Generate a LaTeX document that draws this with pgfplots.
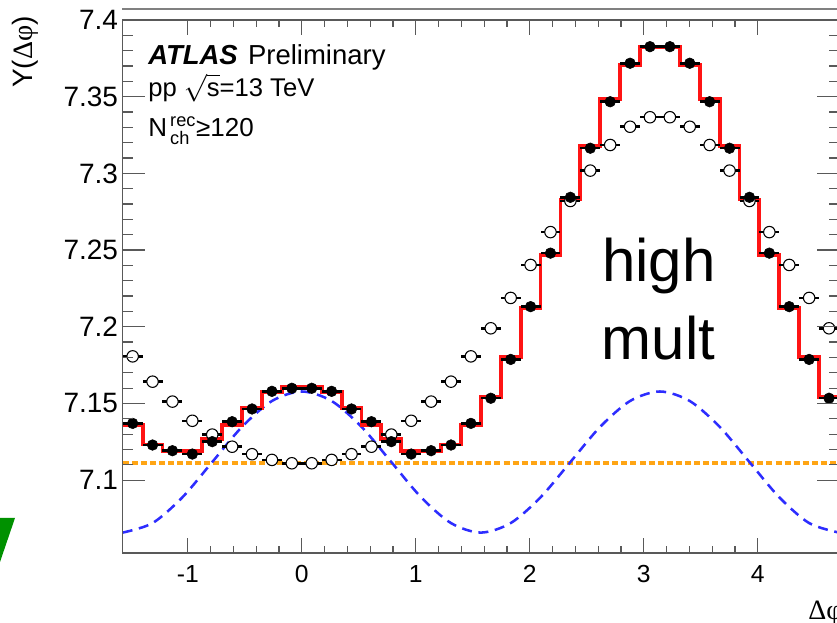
\documentclass[border=0pt]{standalone}
\usepackage{amsmath}
\usepackage{fontspec}
\setmainfont{Liberation Sans}
\newfontfamily\symbfont{Liberation Serif}
\usepackage{pgfplots}
\pgfplotsset{compat=1.18}
\usepackage{pgfplotstable}

\definecolor{fitred}{RGB}{255,20,20}
\definecolor{dashblue}{RGB}{45,45,255}
\definecolor{dotorange}{RGB}{255,165,20}
\definecolor{logogreen}{RGB}{0,145,0}
\definecolor{framegray}{gray}{0.35}

% bin centres, filled data (F) and open reference points (O)
\pgfplotstableread{
x       F       O
-1.4835 7.1370 7.1807
-1.3090 7.1229 7.1642
-1.1345 7.1192 7.1512
-0.9599 7.1170 7.1387
-0.7854 7.1251 7.1297
-0.6109 7.1381 7.1218
-0.4363 7.1464 7.1169
-0.2618 7.1579 7.1132
-0.0873 7.1599 7.1110
 0.0873 7.1599 7.1110
 0.2618 7.1579 7.1132
 0.4363 7.1464 7.1169
 0.6109 7.1381 7.1218
 0.7854 7.1251 7.1297
 0.9599 7.1170 7.1387
 1.1345 7.1192 7.1512
 1.3090 7.1229 7.1642
 1.4835 7.1370 7.1807
 1.6581 7.1534 7.1990
 1.8326 7.1787 7.2188
 2.0071 7.2131 7.2403
 2.1817 7.2480 7.2617
 2.3562 7.2844 7.2820
 2.5307 7.3164 7.3018
 2.7053 7.3467 7.3185
 2.8798 7.3718 7.3304
 3.0543 7.3826 7.3366
 3.2289 7.3826 7.3366
 3.4034 7.3718 7.3304
 3.5779 7.3467 7.3185
 3.7525 7.3164 7.3018
 3.9270 7.2844 7.2820
 4.1015 7.2480 7.2617
 4.2761 7.2131 7.2403
 4.4506 7.1787 7.2188
 4.6251 7.1534 7.1990
}\pts

% template fit, given at the lower bin edges (last row closes the final bin)
\pgfplotstableread{
x       R
-1.5708 7.1358
-1.3963 7.1232
-1.2217 7.1190
-1.0472 7.1190
-0.8727 7.1267
-0.6981 7.1360
-0.5236 7.1469
-0.3491 7.1573
-0.1745 7.1606
 0.0000 7.1606
 0.1745 7.1573
 0.3491 7.1469
 0.5236 7.1360
 0.6981 7.1267
 0.8727 7.1190
 1.0472 7.1190
 1.2217 7.1232
 1.3963 7.1358
 1.5708 7.1544
 1.7453 7.1805
 1.9199 7.2121
 2.0944 7.2470
 2.2689 7.2830
 2.4435 7.3179
 2.6180 7.3483
 2.7925 7.3707
 2.9671 7.3826
 3.1416 7.3826
 3.3161 7.3707
 3.4907 7.3483
 3.6652 7.3179
 3.8397 7.2830
 4.0143 7.2470
 4.1888 7.2121
 4.3633 7.1805
 4.5379 7.1544
 4.7124 7.1544
}\fit

\pgfplotsset{
  atlasframe/.style={
    at={(92.03pt,52.5pt)}, anchor=south west,
    scale only axis, width=537.2pt, height=399.75pt,
    xmin=-1.5708, xmax=4.7124, ymin=7.0525, ymax=7.4,
    axis line style={framegray, line width=1.1pt},
    tick align=inside,
    tick style={framegray, line width=0.9pt},
  }
}

\begin{document}
\begin{tikzpicture}
\useasboundingbox (0pt,0pt) rectangle (627.75pt,467.25pt);
\clip (0pt,0pt) rectangle (627.75pt,467.25pt);

\begin{scope}[x=0.75pt,y=0.75pt]
  \fill[logogreen] (0,105) -- (15,105) -- (0,61) -- cycle;
  \draw[black!50, line width=0.9pt] (122,614) -- (837,614);
\end{scope}

% x ticks and all curves
\begin{axis}[atlasframe,
    xtick={-1,0,1,2,3,4}, xticklabels={-1,0,1,2,3,4},
    minor x tick num=4,
    ytick=\empty,
    major tick length=11.25pt, minor tick length=5.5pt,
    xticklabel style={font=\fontsize{18.5}{18.5}\selectfont, yshift=-5.5pt},
  ]
  \addplot[dotorange, line width=2.8pt, dash pattern=on 4.5pt off 2.3pt]
    coordinates {(-1.5708,7.1114) (4.7124,7.1114)};
  \addplot[dashblue, line width=1.9pt, dash pattern=on 7.5pt off 5pt, smooth]
    coordinates {
      (-1.5708,7.0658) (-1.3090,7.0720) (-1.0472,7.0888) (-0.7854,7.1118)
      (-0.5236,7.1348) (-0.2618,7.1516) (0.0000,7.1578) (0.2618,7.1516)
      (0.5236,7.1348) (0.7854,7.1118) (1.0472,7.0888) (1.3090,7.0720)
      (1.5708,7.0658) (1.8326,7.0720) (2.0944,7.0888) (2.3562,7.1118)
      (2.6180,7.1348) (2.8798,7.1516) (3.1416,7.1578) (3.4034,7.1516)
      (3.6652,7.1348) (3.9270,7.1118) (4.1888,7.0888) (4.4506,7.0720)
      (4.7124,7.0658)};
  \addplot[fitred, line width=2.9pt, const plot, mark=none] table[x=x,y=R]{\fit};
  \addplot[only marks, mark=*, mark size=4.3pt,
    mark options={fill=white, draw=black, line width=0.8pt},
    error bars/.cd, x dir=both, x fixed=0.0873, error mark=none,
    error bar style={black, line width=1.9pt}]
    table[x=x,y=O]{\pts};
  \addplot[only marks, mark=*, mark size=4.0pt, mark options={fill=black, draw=black},
    error bars/.cd, x dir=both, x fixed=0.0873, error mark=none,
    error bar style={black, line width=1.9pt}]
    table[x=x,y=F]{\pts};
\end{axis}

% y ticks (longer marks on the vertical sides)
\begin{axis}[atlasframe,
    xtick=\empty,
    ytick={7.1,7.15,7.2,7.25,7.3,7.35,7.4},
    yticklabels={7.1,7.15,7.2,7.25,7.3,7.35,7.4},
    minor y tick num=4,
    major tick length=16.5pt, minor tick length=7.5pt,
    yticklabel style={font=\fontsize{21}{21}\selectfont},
  ]
\end{axis}

\begin{scope}[x=0.75pt,y=0.75pt]
  \node[anchor=base west, inner sep=0pt, font=\fontsize{20.6}{20.6}\selectfont]
    at (148,558) {\textbf{\textit{ATLAS}}\hspace{0.1em} Preliminary};
  \node[anchor=base west, inner sep=0pt, font=\fontsize{19.2}{19.2}\selectfont]
    at (148,526.3) {pp \(\sqrt{\text{s}}\)=13 TeV};
  \node[anchor=base west, inner sep=0pt, font=\fontsize{19.5}{19.5}\selectfont]
    at (148,486.3) {N\(^{\,\text{rec}}_{\,\text{ch}}\)≥120};
  \node[anchor=base west, inner sep=0pt, font=\fontsize{45}{45}\selectfont]
    at (602,341.3) {high};
  \node[anchor=base west, inner sep=0pt, font=\fontsize{45}{45}\selectfont]
    at (601.5,263.7) {mult};
  \node[rotate=90, anchor=base, inner sep=0pt, font=\fontsize{21}{21}\selectfont]
    at (33,571) {Y({\symbfont Δφ})};
  \node[anchor=base west, inner sep=0pt, font=\fontsize{21}{21}\selectfont]
    at (808,3) {{\symbfont Δφ}};
\end{scope}
\end{tikzpicture}
\end{document}
